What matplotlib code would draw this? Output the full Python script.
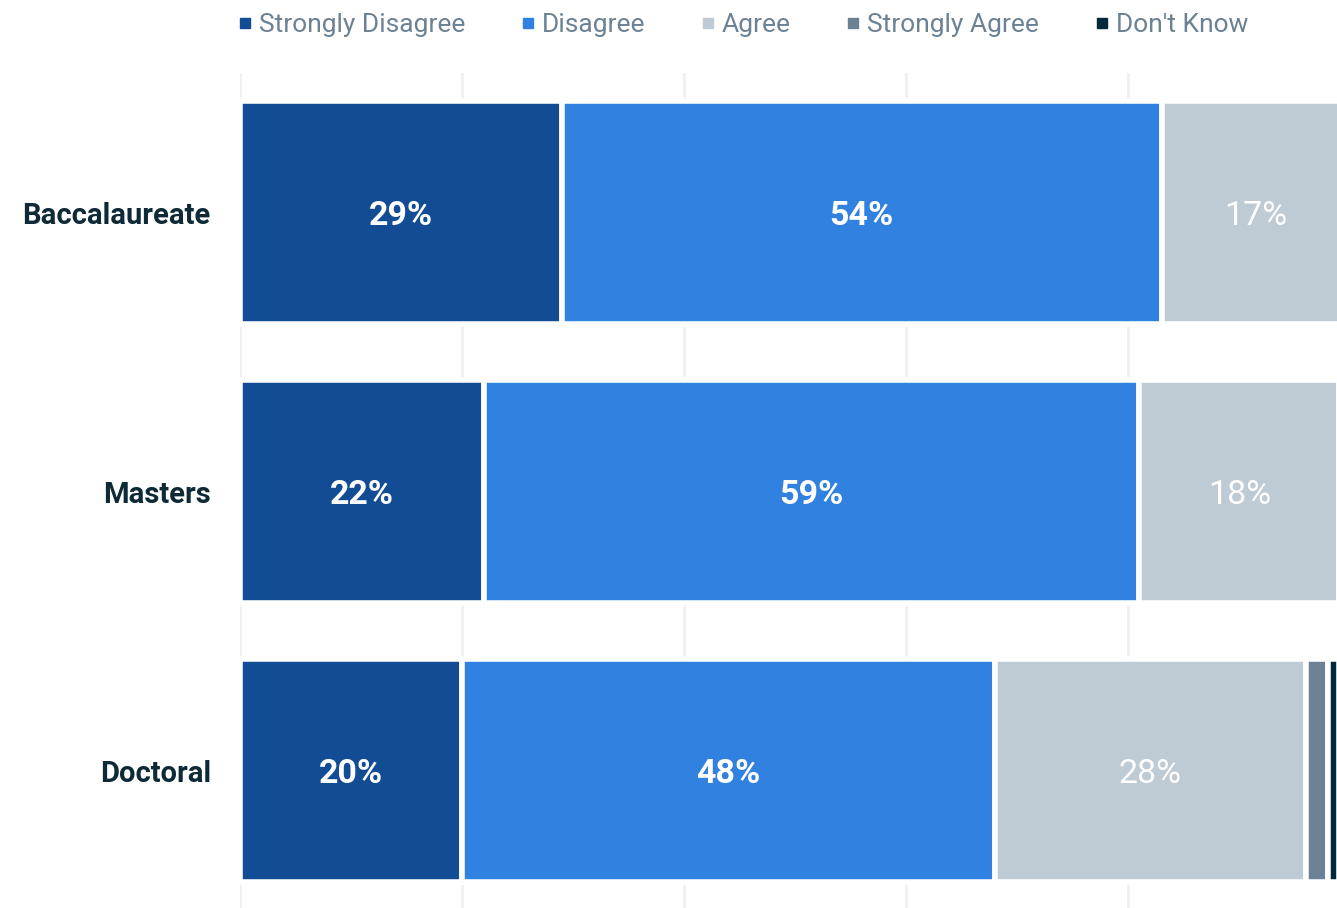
import matplotlib.pyplot as plt
from matplotlib.lines import Line2D
import numpy as np

# survey responses by institution type (percent)
categories = ["Baccalaureate", "Masters", "Doctoral"]
responses = ["Strongly Disagree", "Disagree", "Agree", "Strongly Agree", "Don't Know"]
strongly_disagree = [29, 22, 20]
disagree = [54, 59, 48]
agree = [17, 18, 28]
strongly_agree = [0, 0, 2]
dont_know = [0, 0, 1]

colors = ["#114c94", "#3181e1", "#bfcbd4", "#6b8294", "#04293a"]
label_weight = ["bold", "bold", "normal", "normal", "normal"]

plt.rcParams['font.family'] = ['Roboto', 'DejaVu Sans']

fig = plt.figure(figsize=(13.37, 9.08), dpi=100)
ax = fig.add_axes([240 / 1337, -2 / 908, 1097 / 1337, 837 / 908])

series = [strongly_disagree, disagree, agree, strongly_agree, dont_know]
y = np.arange(len(categories))
left = np.zeros(len(categories))
for vals, col, wt in zip(series, colors, label_weight):
    vals = np.array(vals, dtype=float)
    ax.barh(y, vals, left=left, height=0.8, color=col,
            edgecolor="white", linewidth=4, zorder=3)
    for yi, v, l in zip(y, vals, left):
        if v >= 5:
            ax.text(l + v / 2, yi, f"{v:.0f}%", ha="center",
                    va="center_baseline", color="white", fontsize=24.5,
                    fontweight=wt, zorder=4)
    left += vals

ax.set_xlim(0, 98.8)
ax.set_ylim(2.5, -0.5)
ax.set_xticks([0, 20, 40, 60, 80])
ax.set_yticks(y)
ax.set_yticklabels(categories, fontsize=21, fontweight="bold", color="#0e2a36")
ax.tick_params(axis="y", length=0, pad=21)
ax.tick_params(axis="x", length=0, labelbottom=False)
ax.grid(axis="x", color="#eef0f3", linewidth=2, zorder=0)
for s in ax.spines.values():
    s.set_visible(False)

handles = [Line2D([], [], marker="s", linestyle="", markersize=6.5, color=c)
           for c in colors]
fig.legend(handles, responses, loc="upper left",
           bbox_to_anchor=(239 / 1337, 1 - 13 / 908), ncol=5, frameon=False,
           fontsize=19, labelcolor="#6b8294", handlelength=0.45,
           handletextpad=0.3, columnspacing=2.15, borderpad=0, borderaxespad=0)

fig.savefig("out.png", dpi=100)
